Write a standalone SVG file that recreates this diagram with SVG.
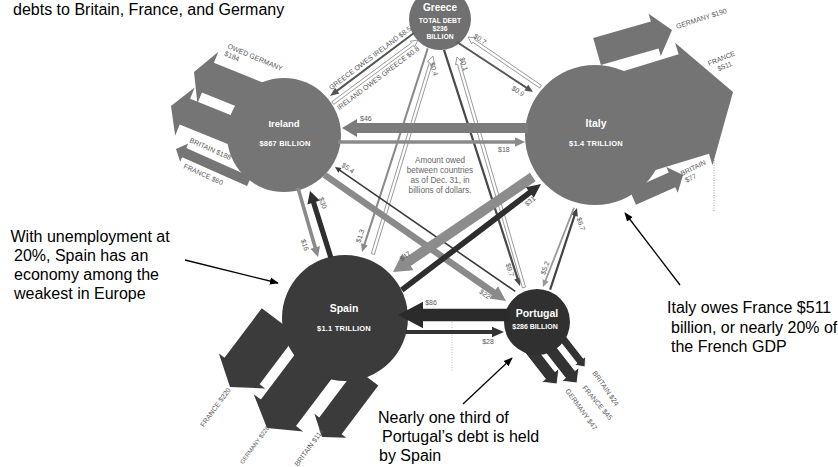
<svg xmlns="http://www.w3.org/2000/svg" width="838" height="467" viewBox="0 0 838 467">
<defs>
<style>
text{font-family:"Liberation Sans",Arial,sans-serif}
.note{font-size:16px;fill:#000}
.lbl{font-size:7px;fill:#5a5a5a}
.clbl{font-size:7px;fill:#5a5a5a;text-anchor:middle}
.cn{font-weight:bold;fill:#fff;text-anchor:middle}
.sm{font-size:7.5px;letter-spacing:0.2px}
.hollow{fill:#fff;stroke:#8c8c8c;stroke-width:0.8}
.ann{stroke:#000;stroke-width:1.3;fill:none;marker-end:url(#ah)}
.dot{stroke:#999;stroke-width:1;stroke-dasharray:1 1.5;fill:none}
.amt{font-size:8.2px;fill:#666;text-anchor:middle}
</style>
<marker id="ah" viewBox="0 0 10 10" refX="9" refY="5" markerWidth="9" markerHeight="9" markerUnits="userSpaceOnUse" orient="auto"><path d="M0,1 L10,5 L0,9 z" fill="#000"/></marker>
</defs>
<rect width="838" height="467" fill="#fff"/>

<line class="dot" x1="714" y1="160" x2="714" y2="212"/>
<line class="dot" x1="452" y1="322" x2="452" y2="372" style="stroke:#bbb"/>

<g id="greece">
<circle cx="440" cy="19" r="31" fill="#707070"/>
<text class="cn" x="440" y="10.5" font-size="10">Greece</text>
<text class="cn" x="440" y="22.5" font-size="6.8">TOTAL DEBT</text>
<text class="cn" x="440" y="30.5" font-size="6.8">$236</text>
<text class="cn" x="440" y="38.5" font-size="6.8">BILLION</text>
</g>

<g id="ireland">
<g fill="#757575">
<polygon transform="translate(194,72) rotate(202)" points="-95,-16 -15,-16 -15,-28 0,0 -15,28 -15,16 -95,16"/>
<polygon transform="translate(171,106) rotate(202)" points="-115,-14 -15,-14 -15,-26 0,0 -15,26 -15,14 -115,14"/>
<polygon transform="translate(176,149) rotate(204)" points="-80,-5 -9,-5 -9,-10 0,0 -9,10 -9,5 -80,5"/>
</g>
<circle cx="284" cy="135" r="57" fill="#757575"/>
<text class="cn" x="284" y="127" font-size="9.5">Ireland</text>
<text class="cn sm" x="285" y="145.5">$867 BILLION</text>
<text class="lbl" transform="translate(227,48) rotate(23)"><tspan x="0" y="0">OWED GERMANY</tspan><tspan x="0" y="8">$184</tspan></text>
<text class="lbl" transform="translate(189,142) rotate(24)">BRITAIN $188</text>
<text class="lbl" transform="translate(183,168) rotate(24)">FRANCE $60</text>
</g>

<g id="italy">
<g fill="#747474">
<polygon transform="translate(672,30) rotate(-16)" points="-78,-14 -18,-14 -18,-22 0,0 -18,22 -18,14 -78,14"/>
<polygon transform="translate(733,92) rotate(-17)" points="-150,-52 -41,-52 -41,-64 0,0 -41,64 -41,52 -150,52"/>
<polygon transform="translate(683,175) rotate(-24)" points="-55,-8 -12,-8 -12,-14 0,0 -12,14 -12,8 -55,8"/>
</g>
<circle cx="595" cy="135" r="70" fill="#747474"/>
<text class="cn" x="596" y="127" font-size="10.5">Italy</text>
<text class="cn sm" x="596" y="146">$1.4 TRILLION</text>
<text class="lbl" transform="translate(677,29) rotate(-18)">GERMANY $190</text>
<text class="lbl" transform="translate(709,66) rotate(-22)"><tspan x="0" y="0">FRANCE</tspan><tspan x="7" y="8.5">$511</tspan></text>
<text class="lbl" transform="translate(682,176) rotate(-26)"><tspan x="0" y="0">BRITAIN</tspan><tspan x="1" y="8">$77</tspan></text>
</g>

<g id="spain">
<g fill="#3b3b3b">
<polygon transform="translate(230,387) rotate(127)" points="-82,-22 -20,-22 -20,-29 0,0 -20,29 -20,22 -82,22"/>
<polygon transform="translate(267,428) rotate(127)" points="-100,-22 -19,-22 -19,-31 0,0 -19,31 -19,22 -100,22"/>
<polygon transform="translate(322,437) rotate(127)" points="-75,-14 -14,-14 -14,-20 0,0 -14,20 -14,14 -75,14"/>
</g>
<circle cx="345" cy="318" r="63" fill="#3b3b3b"/>
<text class="cn" x="344" y="312" font-size="10.5">Spain</text>
<text class="cn sm" x="344" y="330.5">$1.1 TRILLION</text>
<text class="lbl" text-anchor="end" transform="translate(231,390) rotate(-54)">FRANCE $220</text>
<text class="lbl" text-anchor="end" style="font-size:6px" transform="translate(269.5,428) rotate(-54)">GERMANY $228</text>
<text class="lbl" text-anchor="end" transform="translate(324,431) rotate(-54)">BRITAIN $114</text>
</g>

<g id="portugal">
<g fill="#333" stroke="#fff" stroke-width="0.8">
<polygon transform="translate(557,384) rotate(52)" points="-62,-6 -11,-6 -11,-11 0,0 -11,11 -11,6 -62,6"/>
<polygon transform="translate(577,383) rotate(52)" points="-62,-6 -11,-6 -11,-11 0,0 -11,11 -11,6 -62,6"/>
<polygon transform="translate(585,367) rotate(52)" points="-45,-4 -8,-4 -8,-7 0,0 -8,7 -8,4 -45,4"/>
</g>
<circle cx="537" cy="322" r="33" fill="#303030"/>
<text class="cn" x="537" y="317" font-size="10.5">Portugal</text>
<text class="cn" x="535" y="329" font-size="7">$286 BILLION</text>
<text class="lbl" transform="translate(565,391) rotate(54)">GERMANY $47</text>
<text class="lbl" transform="translate(582,388) rotate(50)">FRANCE $45</text>
<text class="lbl" transform="translate(592,373) rotate(55)">BRITAIN $24</text>
</g>

<g id="connectors">
<polygon fill="#555" transform="translate(330,96) rotate(143.1)" points="-105,-1 -9,-1 -9,-3.5 0,0 -9,3.5 -9,1 -105,1"/>
<polygon class="hollow" transform="translate(418,40) rotate(-36.5)" points="-106,-1.6 -7,-1.6 -7,-3.6 0,0 -7,3.6 -7,1.6 -106,1.6"/>
<polygon fill="#555" transform="translate(533,92) rotate(33.3)" points="-91,-1 -8,-1 -8,-3.5 0,0 -8,3.5 -8,1 -91,1"/>
<polygon class="hollow" transform="translate(468,37) rotate(-145.6)" points="-88,-1.6 -7,-1.6 -7,-3.6 0,0 -7,3.6 -7,1.6 -88,1.6"/>
<polygon fill="#8a8a8a" transform="translate(362,252) rotate(107.9)" points="-214,-1 -8,-1 -8,-3.5 0,0 -8,3.5 -8,1 -214,1"/>
<polygon class="hollow" transform="translate(433,56) rotate(-73.1)" points="-207,-1.6 -7,-1.6 -7,-3.6 0,0 -7,3.6 -7,1.6 -207,1.6"/>
<polygon fill="#4a4a4a" transform="translate(520,286) rotate(72.15)" points="-248,-1.1 -8,-1.1 -8,-3.5 0,0 -8,3.5 -8,1.1 -248,1.1"/>
<polygon class="hollow" transform="translate(457,57) rotate(-106.2)" points="-240,-1.6 -7,-1.6 -7,-3.6 0,0 -7,3.6 -7,1.6 -240,1.6"/>
<polygon fill="#7b7b7b" transform="translate(342,128) rotate(180)" points="-186,-5 -15,-5 -15,-9 0,0 -15,9 -15,5 -186,5"/>
<polygon fill="#8a8a8a" transform="translate(525,142)" points="-187,-1.8 -10,-1.8 -10,-4.8 0,0 -10,4.8 -10,1.8 -187,1.8"/>
<polygon fill="#2f2f2f" transform="translate(310,191) rotate(-107.4)" points="-70,-2.6 -12,-2.6 -12,-6.5 0,0 -12,6.5 -12,2.6 -70,2.6"/>
<polygon fill="#8a8a8a" transform="translate(318,257) rotate(73.8)" points="-72,-1.8 -10,-1.8 -10,-5 0,0 -10,5 -10,1.8 -72,1.8"/>
<polygon fill="#8a8a8a" transform="translate(506,301) rotate(34.8)" points="-221,-3.3 -15,-3.3 -15,-7.5 0,0 -15,7.5 -15,3.3 -221,3.3"/>
<polygon fill="#3a3a3a" transform="translate(335,167) rotate(-145.4)" points="-219,-0.8 -6,-0.8 -6,-2.8 0,0 -6,2.8 -6,0.8 -219,0.8"/>
<polygon fill="#8c8c8c" transform="translate(393,272) rotate(145.8)" points="-169,-5 -18,-5 -18,-10 0,0 -18,10 -18,5 -169,5"/>
<polygon fill="#2e2e2e" transform="translate(541,184) rotate(-37.3)" points="-175,-2.8 -14,-2.8 -14,-6.5 0,0 -14,6.5 -14,2.8 -175,2.8"/>
<polygon fill="#444" transform="translate(577,208) rotate(-71.8)" points="-86,-1.1 -8,-1.1 -8,-3.5 0,0 -8,3.5 -8,1.1 -86,1.1"/>
<polygon fill="#999" transform="translate(543,287) rotate(111.4)" points="-85,-0.9 -7,-0.9 -7,-3.2 0,0 -7,3.2 -7,0.9 -85,0.9"/>
<polygon fill="#2b2b2b" transform="translate(398,315) rotate(180)" points="-112,-6.3 -25,-6.3 -25,-13.3 0,0 -25,13.3 -25,6.3 -112,6.3"/>
<polygon fill="#333" transform="translate(504,332)" points="-98,-2 -12,-2 -12,-5.3 0,0 -12,5.3 -12,2 -98,2"/>

<text class="clbl" y="2.5" transform="translate(370,58) rotate(-37)">GREECE OWES IRELAND $8.5</text>
<text class="clbl" y="2.5" transform="translate(378,78) rotate(-37)">IRELAND OWES GREECE $0.8</text>
<text class="clbl" y="2.5" transform="translate(518,91) rotate(33)">$0.9</text>
<text class="clbl" y="2.5" transform="translate(480,39) rotate(35)">$0.7</text>
<text class="clbl" y="2.5" transform="translate(434,69) rotate(74)">$0.4</text>
<text class="clbl" y="2.5" transform="translate(464,64) rotate(74)">$0.1</text>
<text class="clbl" y="2.5" transform="translate(360,236) rotate(-72)">$1.3</text>
<text class="clbl" y="2.5" transform="translate(510,270) rotate(72)">$9.7</text>
<text class="clbl" y="2.5" transform="translate(323,203) rotate(72)">$30</text>
<text class="clbl" y="2.5" transform="translate(305,245) rotate(72)">$16</text>
<text class="clbl" y="2.5" transform="translate(545,268) rotate(-70)">$5.2</text>
<text class="clbl" y="2.5" transform="translate(581,224) rotate(72)">$6.7</text>
<text class="clbl" y="2.5" transform="translate(348,168) rotate(35)">$5.4</text>
<text class="clbl" y="2.5" transform="translate(485,294) rotate(35)">$22</text>
<text class="clbl" y="2.5" transform="translate(405,256) rotate(-35)">$47</text>
<text class="clbl" y="2.5" transform="translate(530,201) rotate(-40)">$31</text>
<text class="lbl" x="360" y="121">$46</text>
<text class="lbl" x="498" y="152">$18</text>
<text class="clbl" x="431" y="305">$86</text>
<text class="clbl" x="488" y="344">$28</text>
</g>

<g id="legend">
<text class="amt"><tspan x="440" y="163">Amount owed</tspan><tspan x="440" y="173">between countries</tspan><tspan x="440" y="183">as of Dec. 31, in</tspan><tspan x="440" y="193">billions of dollars.</tspan></text>
</g>

<g id="annotations">
<line class="ann" x1="185" y1="260" x2="278" y2="283"/>
<line class="ann" x1="680" y1="285" x2="625" y2="213"/>
<line class="ann" x1="463" y1="404" x2="512" y2="358"/>
<text class="note" x="13" y="14.5">debts to Britain, France, and Germany</text>
<text class="note"><tspan x="10.5" y="241.5">With unemployment at</tspan><tspan x="14" y="260.5">20%, Spain has an</tspan><tspan x="14" y="279.5">economy among the</tspan><tspan x="14" y="298.5">weakest in Europe</tspan></text>
<text class="note"><tspan x="667" y="313">Italy owes France $511</tspan><tspan x="671" y="332.5">billion, or nearly 20% of</tspan><tspan x="671" y="352">the French GDP</tspan></text>
<text class="note"><tspan x="378" y="423">Nearly one third of</tspan><tspan x="382" y="442">Portugal’s debt is held</tspan><tspan x="379" y="461">by Spain</tspan></text>
</g>
</svg>
